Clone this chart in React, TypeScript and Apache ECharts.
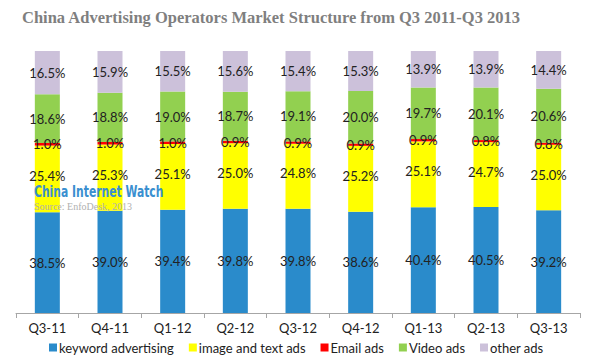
import React, { useEffect, useRef } from "react";
import * as echarts from "echarts";

const categories = ["Q3-11", "Q4-11", "Q1-12", "Q2-12", "Q3-12", "Q4-12", "Q1-13", "Q2-13", "Q3-13"];
const keywordAds = [38.5, 39.0, 39.4, 39.8, 39.8, 38.6, 40.4, 40.5, 39.2];
const imageTextAds = [25.4, 25.3, 25.1, 25.0, 24.8, 25.2, 25.1, 24.7, 25.0];
const emailAds = [1.0, 1.0, 1.0, 0.9, 0.9, 0.9, 0.9, 0.8, 0.8];
const videoAds = [18.6, 18.8, 19.0, 18.7, 19.1, 20.0, 19.7, 20.1, 20.6];
const otherAds = [16.5, 15.9, 15.5, 15.6, 15.4, 15.3, 13.9, 13.9, 14.4];

const seriesDefs = [
  { name: "keyword advertising", data: keywordAds, color: "#2a8bcb" },
  { name: "image and text ads", data: imageTextAds, color: "#ffff00" },
  { name: "Email ads", data: emailAds, color: "#ff0000" },
  { name: "Video ads", data: videoAds, color: "#92d050" },
  { name: "other ads", data: otherAds, color: "#ccc1da" },
];

const labelFont = "Lato, 'DejaVu Sans', sans-serif";

export default function App() {
  const ref = useRef<HTMLDivElement>(null);
  useEffect(() => {
    if (!ref.current) return;
    const chart = echarts.init(ref.current, null, { renderer: "svg" });
    chart.setOption({
      animation: false,
      backgroundColor: "#ffffff",
      title: {
        text: "China Advertising Operators Market Structure from Q3 2011-Q3 2013",
        left: 17,
        top: 4,
        textStyle: {
          fontFamily: "'Liberation Serif', 'DejaVu Serif', serif",
          fontWeight: "bold",
          fontSize: 16.5,
          color: "#7f7f7f",
        },
      },
      grid: { left: 16, right: 20, top: 51, bottom: 51 },
      legend: {
        bottom: 5,
        left: 44,
        itemWidth: 8,
        itemHeight: 8,
        itemGap: 15,
        icon: "rect",
        textStyle: { fontFamily: labelFont, fontSize: 13, color: "#222", padding: [0, 0, 0, -3] },
        data: seriesDefs.map((s) => s.name),
      },
      xAxis: {
        type: "category",
        data: categories,
        axisLine: { lineStyle: { color: "#a6a6a6" } },
        axisTick: { show: true, alignWithLabel: false, lineStyle: { color: "#a6a6a6" } },
        axisLabel: { fontFamily: labelFont, fontSize: 13, color: "#222", margin: 8 },
      },
      yAxis: {
        type: "value",
        min: 0,
        max: 100,
        show: false,
      },
      series: seriesDefs.map((s) => ({
        name: s.name,
        type: "bar",
        stack: "total",
        barWidth: 25,
        data: s.data,
        itemStyle: { color: s.color },
        label: {
          show: true,
          position: "inside",
          offset: s.name === "image and text ads" ? [0, -3] : [0, 0],
          formatter: (p: any) => p.value.toFixed(1) + "%",
          fontFamily: labelFont,
          fontSize: 13,
          color: "#222",
        },
      })),
      graphic: [
        {
          type: "text",
          x: 34,
          y: 184,
          scaleX: 0.8,
          style: {
            text: "China Internet Watch",
            fontFamily: "'DejaVu Sans Condensed', 'Liberation Sans Narrow', sans-serif",
            fontWeight: "bold",
            fontSize: 15,
            fill: "#3a8fd0",
          },
          z: 100,
        },
        {
          type: "text",
          x: 34,
          y: 201,
          style: {
            text: "Source: EnfoDesk, 2013",
            fontFamily: "'Liberation Serif', serif",
            fontSize: 10,
            fill: "#b0b0b0",
          },
          z: 100,
        },
      ],
    });
    return () => chart.dispose();
  }, []);
  return <div ref={ref} style={{ width: 600, height: 364, position: "absolute", left: 0, top: 0 }} />;
}
